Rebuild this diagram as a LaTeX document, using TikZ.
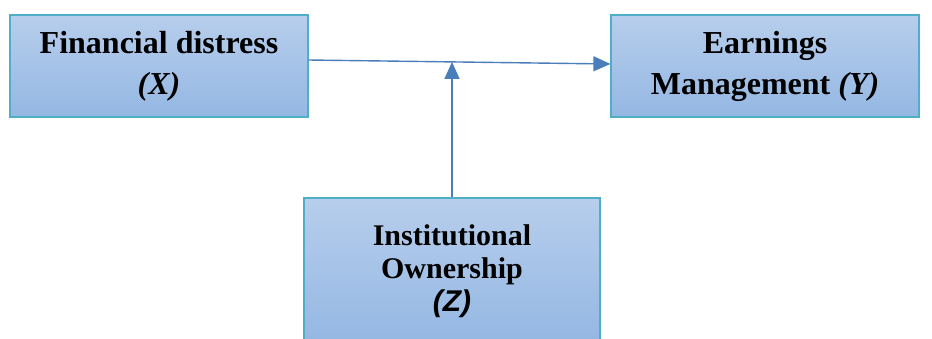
\documentclass[tikz,border=0pt]{standalone}
\usepackage{fontspec}
\setmainfont{Liberation Serif}
\newfontfamily\arialfont{Liberation Sans}
\definecolor{boxtop}{RGB}{183,206,236}
\definecolor{boxbottom}{RGB}{148,183,227}
\definecolor{boxline}{RGB}{80,175,200}
\definecolor{arrowblue}{RGB}{74,126,187}
\usetikzlibrary{arrows.meta,positioning}

\begin{document}
\begin{tikzpicture}[x=1pt,y=-1pt]
  \tikzstyle{varbox}=[rectangle,draw=boxline,line width=1.2pt,top color=boxtop,bottom color=boxbottom,align=center,font=\fontsize{32}{41}\selectfont\bfseries]
  \tikzstyle{modbox}=[varbox,font=\fontsize{30}{33}\selectfont\bfseries]
  \tikzstyle{link}=[draw=arrowblue,line width=1.4pt,-{Triangle[length=17pt,width=15pt]}]

  \useasboundingbox (0,0) rectangle (932,338);
  \clip (0,0) rectangle (932,338);

  \node[varbox,minimum width=298pt,minimum height=102pt] (fd) at (159,66) {Financial distress\\\textit{(X)}};
  \node[varbox,minimum width=308pt,minimum height=102pt] (em) at (765,66) {Earnings\\Management \textit{(Y)}};
  \node[modbox,minimum width=296pt,minimum height=146pt] (io) at (452,271) {Institutional\\Ownership\\{\arialfont\itshape (Z)}};

  \draw[link] ([yshift=6pt]fd.east) -- ([yshift=2pt]em.west) coordinate[pos=0.472] (mid);
  \draw[link] (io.north) -- (io.north |- mid);
\end{tikzpicture}
\end{document}
